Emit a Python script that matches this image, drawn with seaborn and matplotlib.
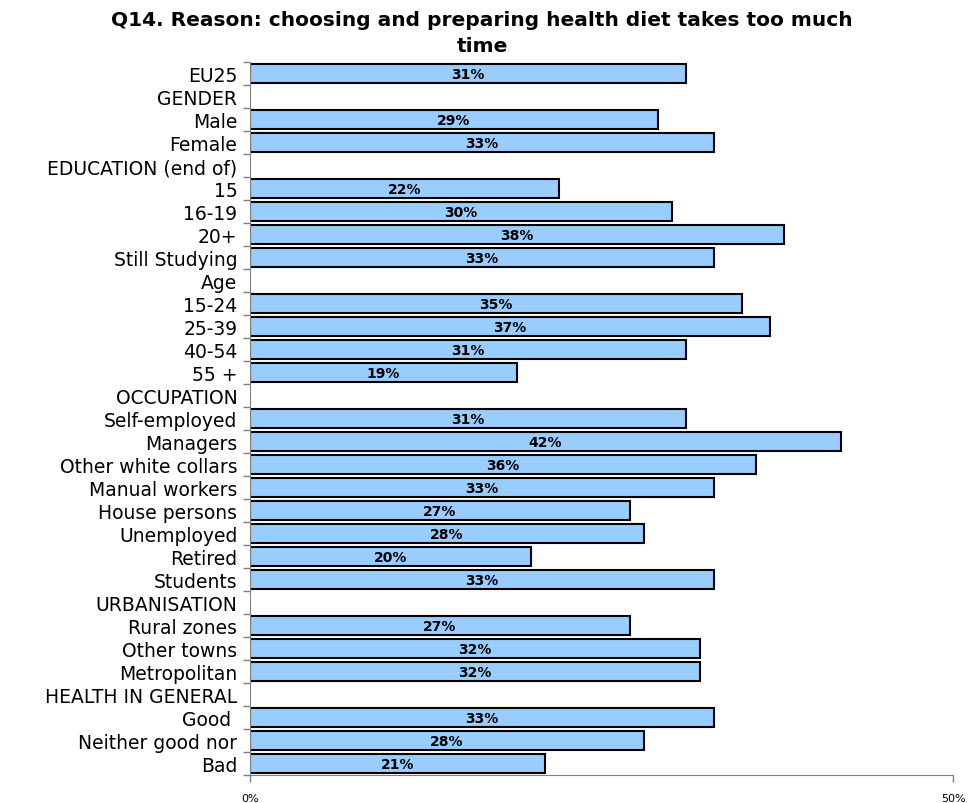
import matplotlib
matplotlib.use('Agg')
import matplotlib.pyplot as plt
import seaborn as sns
import pandas as pd
import numpy as np

categories = ['EU25', 'GENDER', 'Male', 'Female', 'EDUCATION (end of)', '15', '16-19', '20+',
              'Still Studying', 'Age', '15-24', '25-39', '40-54', '55 +', 'OCCUPATION',
              'Self-employed', 'Managers', 'Other white collars', 'Manual workers',
              'House persons', 'Unemployed', 'Retired', 'Students', 'URBANISATION',
              'Rural zones', 'Other towns', 'Metropolitan', 'HEALTH IN GENERAL',
              'Good ', 'Neither good nor', 'Bad']
values = [31, None, 29, 33, None, 22, 30, 38, 33, None, 35, 37, 31, 19, None,
          31, 42, 36, 33, 27, 28, 20, 33, None, 27, 32, 32, None, 33, 28, 21]

df = pd.DataFrame({'cat': categories, 'val': [np.nan if v is None else v for v in values]})

sns.set_style('white')
plt.rcParams['font.family'] = ['DejaVu Sans']
plt.rcParams['text.color'] = 'black'
plt.rcParams['xtick.color'] = 'black'
plt.rcParams['ytick.color'] = 'black'

fig = plt.figure(figsize=(9.72, 8.04), dpi=100)
ax = fig.add_axes([0.2572, 0.0348, 0.7233, 0.8868])

sns.barplot(data=df, x='val', y='cat', orient='h', color='#99CCFF', saturation=1,
            edgecolor='black', linewidth=1.5, width=0.8, ax=ax)

for i, v in enumerate(df['val']):
    if not np.isnan(v):
        ax.text(v / 2, i, f'{int(v)}%', ha='center', va='center',
                fontsize=10, fontweight='bold', color='black')

ax.set_xlim(0, 50)
ax.set_ylim(len(categories) - 0.5, -0.5)
ax.set_xticks([0, 50])
ax.set_xticklabels(['0%', '50%'], fontsize=8)
ax.set_yticks(range(len(categories)))
ax.set_yticklabels(categories, fontsize=13.5)
ax.set_yticks(np.arange(-0.5, len(categories)), minor=True)
ax.tick_params(axis='y', which='major', left=False, length=0, pad=9)
ax.tick_params(axis='y', which='minor', left=True, length=5, width=1, color='gray', direction='out')
ax.tick_params(axis='x', bottom=True, length=5, width=1, color='gray', direction='out', pad=8)
ax.set_xlabel('')
ax.set_ylabel('')
for s in ['top', 'right']:
    ax.spines[s].set_visible(False)
ax.spines['left'].set_color('gray')
ax.spines['bottom'].set_color('gray')

ax.set_title('Q14. Reason: choosing and preparing health diet takes too much\ntime',
             fontsize=14.5, fontweight='bold', pad=8, linespacing=1.45, x=0.33)

fig.savefig('out.png', dpi=100)
